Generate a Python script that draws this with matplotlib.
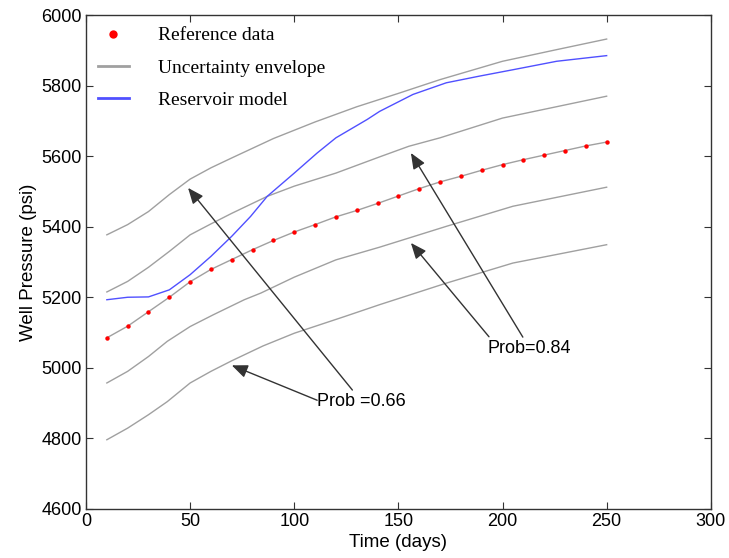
import matplotlib
matplotlib.use("Agg")
import matplotlib.pyplot as plt
from matplotlib.lines import Line2D

plt.rcParams['font.family'] = ['Liberation Sans', 'DejaVu Sans']

# reference data (red dots, also lie on the middle grey curve)
t_ref = [10, 20, 30, 40, 50, 60, 70, 80, 90, 100, 110, 120, 130, 140, 150,
         160, 170, 180, 190, 200, 210, 220, 230, 240, 250]
p_ref = [5085, 5118, 5159, 5200, 5244, 5279, 5307, 5335, 5361, 5385, 5406,
         5428, 5446, 5466, 5487, 5508, 5527, 5543, 5560, 5576, 5590, 5603,
         5616, 5629, 5640]

# uncertainty envelope curves
t_up2 = [10, 20, 30, 40, 50, 60, 70, 90, 110, 130, 150, 170, 200, 226, 250]
p_up2 = [5377, 5406, 5443, 5491, 5535, 5567, 5595, 5650, 5697, 5740, 5778,
         5817, 5869, 5902, 5932]
t_up1 = [10, 20, 30, 40, 50, 60, 70, 87, 100, 120, 141, 155, 170, 200, 250]
p_up1 = [5215, 5245, 5285, 5330, 5377, 5408, 5438, 5486, 5515, 5552, 5598,
         5628, 5652, 5708, 5770]
t_lo1 = [10, 20, 30, 39, 50, 61, 76, 84, 100, 120, 141, 173, 205, 250]
p_lo1 = [4957, 4990, 5032, 5075, 5117, 5150, 5193, 5212, 5257, 5306, 5342,
         5401, 5458, 5512]
t_lo2 = [10, 20, 30, 39, 50, 60, 70, 85, 100, 124, 141, 173, 205, 250]
p_lo2 = [4796, 4829, 4867, 4904, 4957, 4990, 5020, 5062, 5098, 5145, 5179,
         5240, 5297, 5349]

# reservoir model
t_mod = [10, 20, 30, 40, 50, 60, 70, 79, 87, 100, 111, 120, 135, 141, 157,
         173, 189, 205, 226, 250]
p_mod = [5193, 5200, 5201, 5221, 5264, 5316, 5373, 5429, 5486, 5552, 5609,
         5652, 5704, 5727, 5775, 5808, 5827, 5845, 5869, 5885]

grey = "#a0a0a0"
blue = "#5050ff"

fig = plt.figure(figsize=(7.29, 5.58), dpi=100)
ax = fig.add_axes([0.118, 0.088, 0.857, 0.885])

for t, p in [(t_up2, p_up2), (t_up1, p_up1), (t_ref, p_ref),
             (t_lo1, p_lo1), (t_lo2, p_lo2)]:
    ax.plot(t, p, color=grey, lw=1.0)
ax.plot(t_mod, p_mod, color=blue, lw=1.0)
ax.plot(t_ref, p_ref, 'o', color="red", ms=3.2, mec="none")

ax.set_xlim(0, 300)
ax.set_ylim(4600, 6000)
ax.set_xticks(range(0, 301, 50))
ax.set_yticks(range(4600, 6001, 200))
ax.tick_params(direction="in", top=True, right=True, length=5,
               labelsize=13, color="#333333", pad=3)
for s in ax.spines.values():
    s.set_color("#333333")
    s.set_linewidth(1.0)
ax.set_xlabel("Time (days)", fontsize=13.5, labelpad=3)
ax.set_ylabel("Well Pressure (psi)", fontsize=13.5, labelpad=3)

arr = dict(arrowstyle="-|>,head_length=0.6,head_width=0.25", color="#333333",
           lw=1.0, mutation_scale=16, shrinkA=0, shrinkB=0)
ax.annotate("Prob =0.66", xy=(49, 5510), xytext=(111, 4905), fontsize=13,
            va="center", ha="left", arrowprops=arr)
ax.annotate("", xy=(70, 5007), xytext=(111, 4908), arrowprops=arr)
ax.annotate("Prob=0.84", xy=(156, 5609), xytext=(193, 5055), fontsize=13,
            va="center", ha="left", arrowprops=arr)
ax.annotate("", xy=(156, 5354), xytext=(193.5, 5088), arrowprops=arr)

handles = [Line2D([], [], ls="none", marker="o", color="red", ms=6, mec="none"),
           Line2D([], [], color=grey, lw=2),
           Line2D([], [], color=blue, lw=2)]
labels = ["Reference data", "Uncertainty envelope", "Reservoir model"]
ax.legend(handles, labels, loc="upper left", frameon=False,
          prop={"family": "Liberation Serif", "size": 14},
          handlelength=1.6, handletextpad=1.5, labelspacing=0.75,
          borderpad=0.45, borderaxespad=0.15)

fig.savefig("out.png", dpi=100)
